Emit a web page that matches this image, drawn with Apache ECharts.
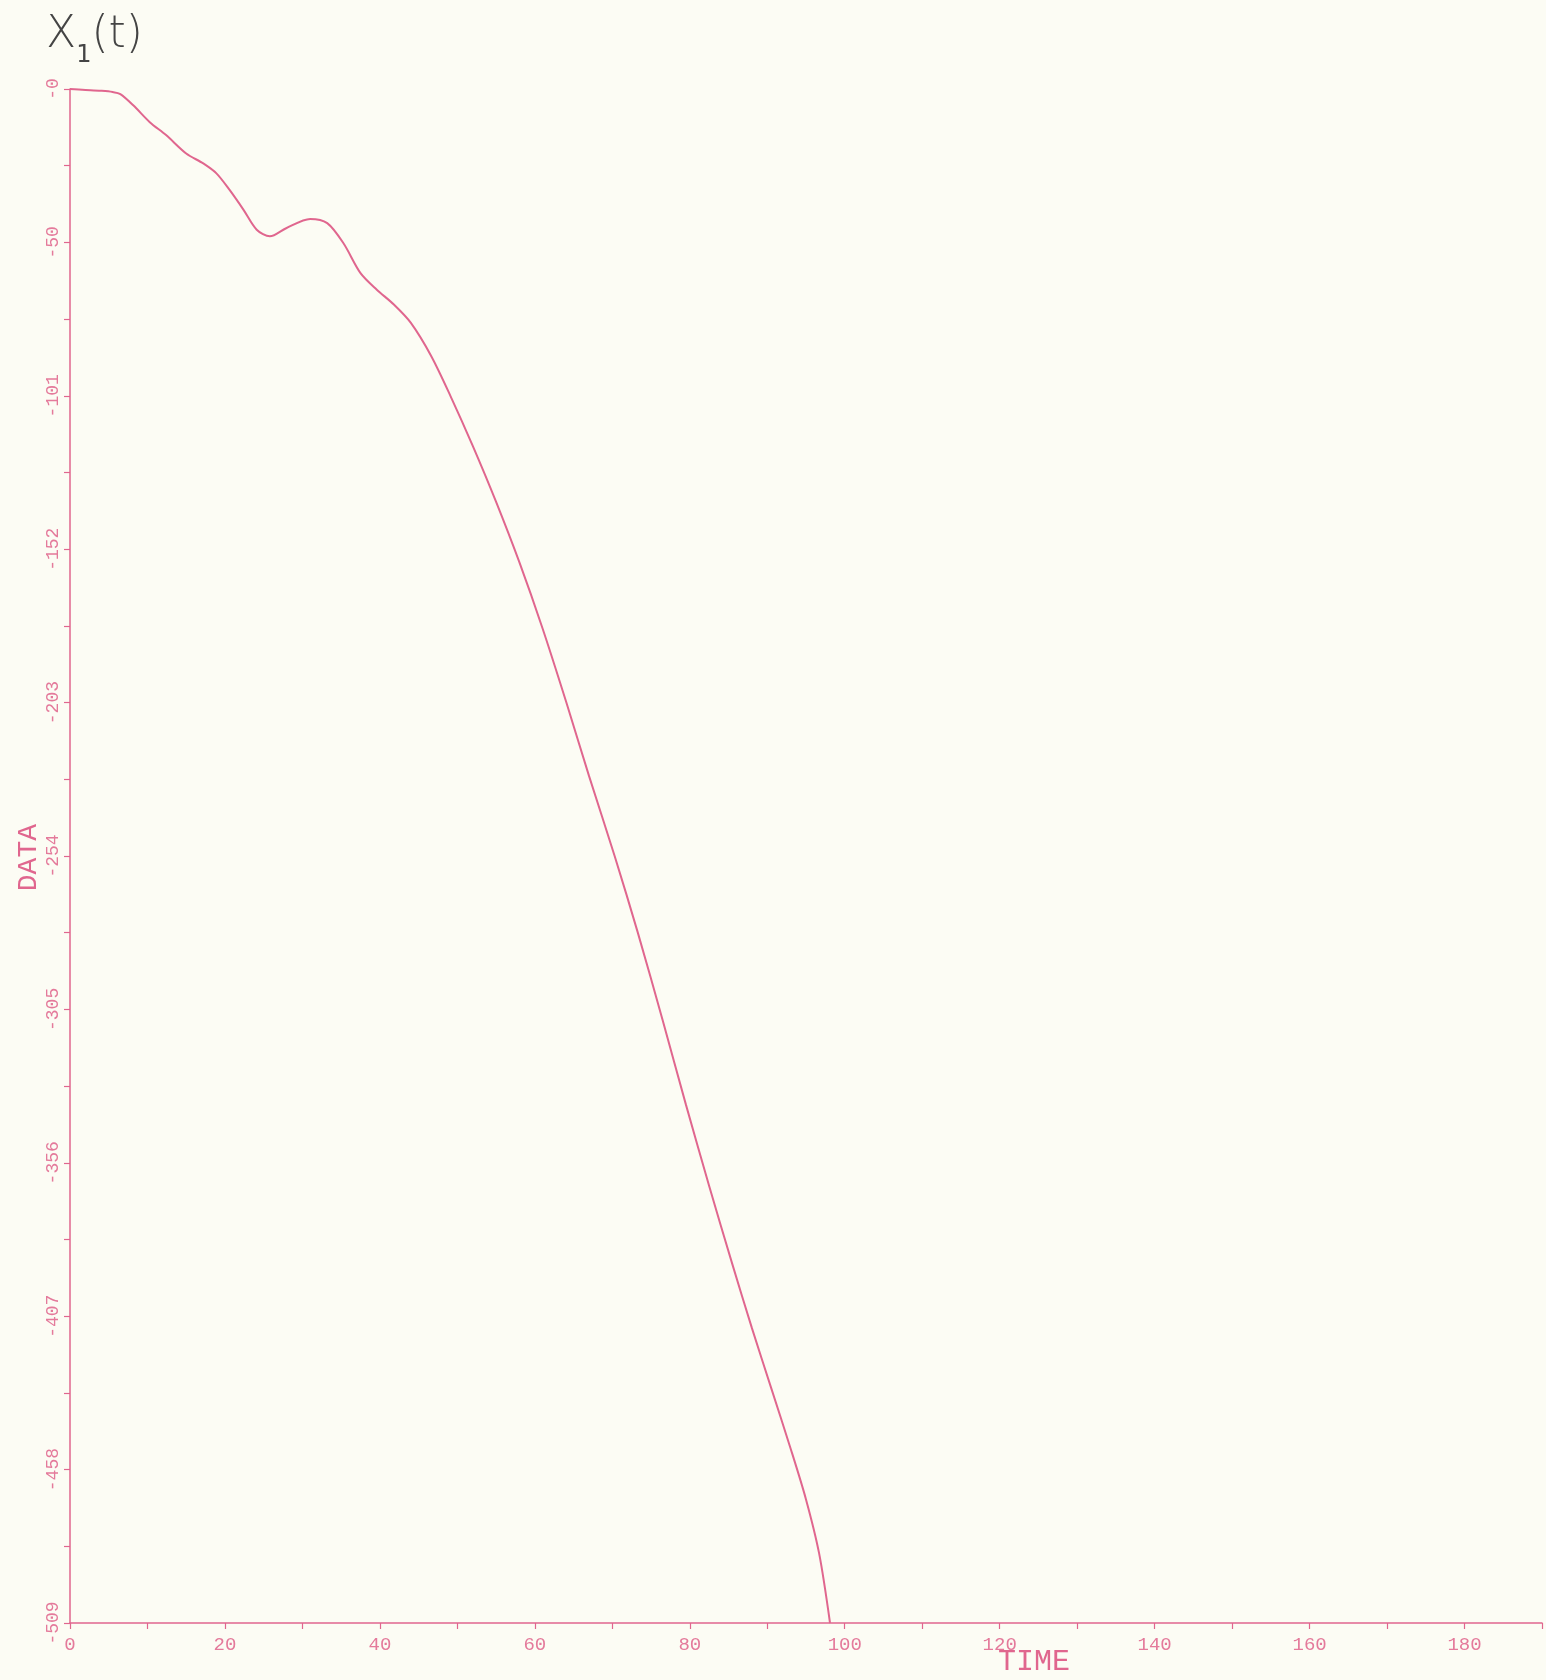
<!DOCTYPE html>
<html>
<head>
<meta charset="utf-8">
<style>
  html, body { margin: 0; padding: 0; background: #fcfcf4; }
  #chart { width: 1546px; height: 1680px; }
</style>
<script src="https://cdn.jsdelivr.net/npm/echarts@6/dist/echarts.min.js"></script>
</head>
<body>
<div id="chart"></div>
<script>
// Data
const timeValues = [0, 2, 4, 5.5, 6.5, 8.2, 10.3, 12.4, 15, 17.2, 18.9, 20.6, 22.4, 24.1, 25.8, 27.9, 31, 33.2, 35.3, 37.5, 39.6, 41.8, 44, 46.6, 49.1, 52, 55, 58, 61, 64, 67, 70.3, 73.3, 76.5, 79.5, 82.5, 85.5, 88, 90.5, 93, 95, 96.7, 98.1];
const dataValues = [0, -0.3, -0.6, -1, -1.7, -5.5, -11, -15.3, -21.4, -24.7, -28, -33.5, -40.1, -46.7, -48.9, -46.2, -43.1, -44.5, -51.2, -61.1, -66.6, -71.5, -77.6, -88.5, -101.8, -118.5, -137, -157, -179, -203, -228, -254.5, -280, -309, -337, -364, -390, -411, -431, -451, -468, -486, -509];
const xAxisRange = { min: 0, max: 190, tick: 10, labelStep: 20 };
const yAxisRange = { min: -509, max: 0, tick: 50.9 };
const titleParts = ['X', '1', '(t)'];
const xName = 'TIME';
const yName = 'DATA';

const pink = '#e0668e';
const labelPink = '#e47a9b';

const chart = echarts.init(document.getElementById('chart'));
const seriesData = timeValues.map((t, i) => [t, dataValues[i]]);

chart.setOption({
  backgroundColor: '#fcfcf4',
  animation: false,
  grid: { left: 70, right: 4, top: 89, bottom: 57 },
  xAxis: {
    type: 'value',
    min: xAxisRange.min,
    max: xAxisRange.max,
    interval: xAxisRange.tick,
    axisLine: { show: true, onZero: false, lineStyle: { color: pink, width: 1.5 } },
    axisTick: { show: true, length: 6, lineStyle: { color: pink, width: 1.2 } },
    splitLine: { show: false },
    axisLabel: {
      color: labelPink,
      fontFamily: 'Liberation Mono',
      fontSize: 19,
      margin: 12,
      formatter: v => (Math.round(v) % xAxisRange.labelStep === 0 ? String(Math.round(v)) : '')
    }
  },
  yAxis: {
    type: 'value',
    min: yAxisRange.min,
    max: yAxisRange.max,
    interval: yAxisRange.tick,
    axisLine: { show: true, onZero: false, lineStyle: { color: pink, width: 1.5 } },
    axisTick: { show: true, length: 6, lineStyle: { color: pink, width: 1.2 } },
    minorTick: { show: true, splitNumber: 2, length: 6, lineStyle: { color: pink, width: 1.2 } },
    splitLine: { show: false },
    axisLabel: {
      color: labelPink,
      fontFamily: 'Liberation Mono',
      fontSize: 18,
      rotate: 90,
      margin: 8,
      formatter: v => '-' + Math.floor(Math.abs(v) + 1e-6)
    }
  },
  graphic: [
    {
      type: 'text',
      left: 15,
      top: 824,
      rotation: Math.PI / 2,
      style: {
        text: yName,
        fill: pink,
        font: '28px "Liberation Mono"'
      }
    },
    {
      type: 'text',
      left: 998,
      top: 1647,
      style: {
        text: xName,
        fill: pink,
        font: '30px "Liberation Mono"'
      }
    },
    {
      type: 'text',
      left: 46,
      top: 14,
      style: {
        text: '{a|' + titleParts[0] + '}{b|' + titleParts[1] + '}{a|' + titleParts[2] + '}',
        rich: {
          a: { fontSize: 44, fontFamily: 'DejaVu Sans', fontWeight: 'lighter', fill: '#444', verticalAlign: 'top' },
          b: { fontSize: 24, fontFamily: 'DejaVu Sans', fill: '#444', padding: [30, 0, 0, 0] }
        }
      }
    }
  ],
  series: [{
    type: 'line',
    data: seriesData,
    showSymbol: false,
    smooth: 0.3,
    lineStyle: { color: pink, width: 2 },
    clip: false
  }]
});
</script>
</body>
</html>
